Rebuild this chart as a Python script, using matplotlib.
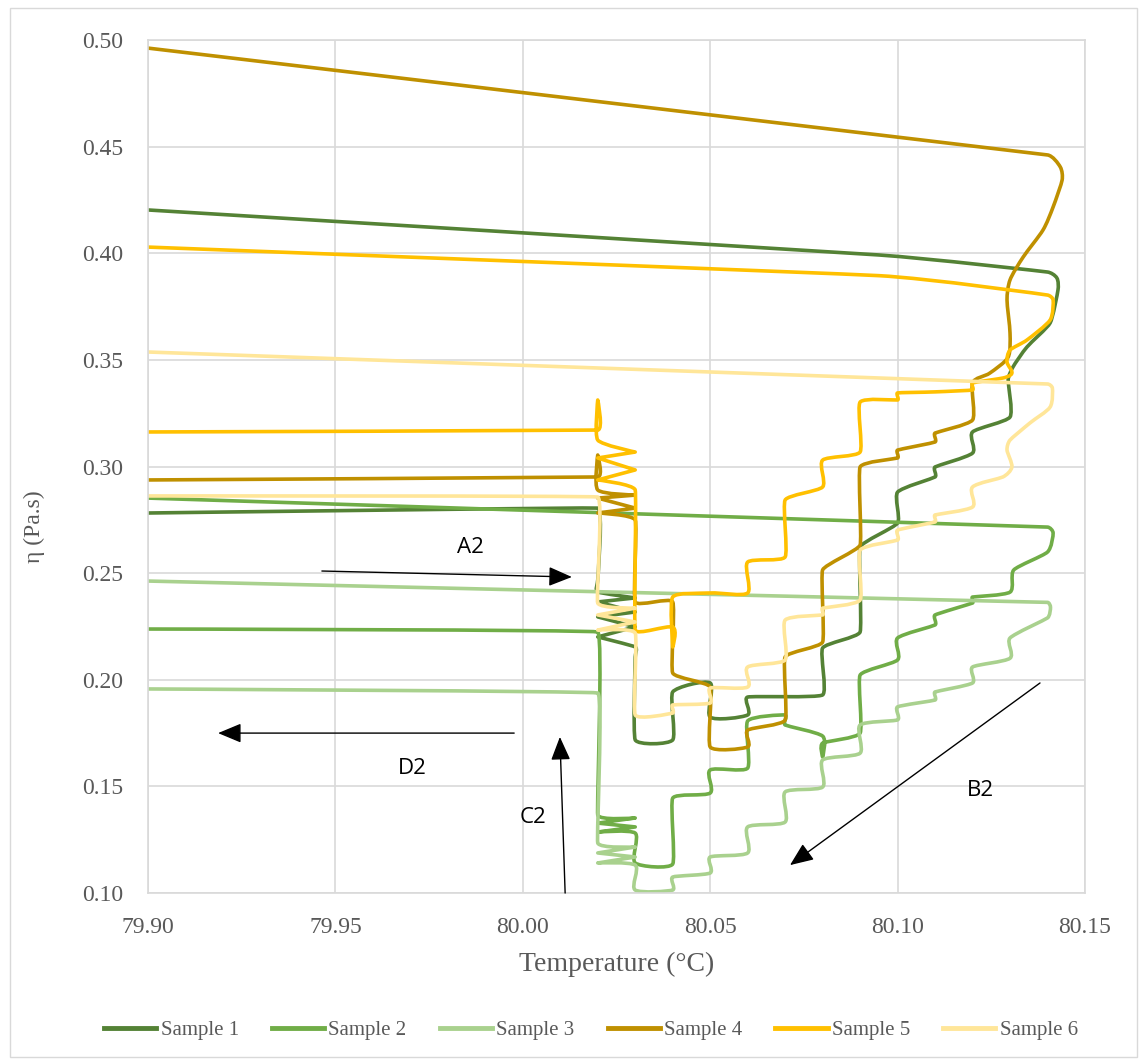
import numpy as np
import matplotlib
matplotlib.use("Agg")
import matplotlib.pyplot as plt
from matplotlib.path import Path
from matplotlib.patches import PathPatch, Rectangle
from matplotlib.lines import Line2D

plt.rcParams['font.family'] = ['Liberation Serif', 'DejaVu Serif']

# viscosity vs temperature for six samples (heat ramp, stepped cooling, recovery)
s1_temp = [79.90, 80.095, 80.140, 80.1425, 80.1428, 80.1407, 80.1345, 80.1308, 80.1295, 80.13,
           80.12, 80.12, 80.11, 80.11, 80.10, 80.10, 80.09, 80.09, 80.08, 80.08,
           80.06, 80.06, 80.05, 80.05, 80.04, 80.04, 80.03, 80.03, 80.03,
           80.02, 80.03, 80.02, 80.03, 80.02, 80.03, 80.02, 80.02, 80.02, 79.90]
s1_eta = [0.4203, 0.3992, 0.3912, 0.3884, 0.3828, 0.3673, 0.3560, 0.3467, 0.3406, 0.3232,
          0.3162, 0.3063, 0.2998, 0.2951, 0.2880, 0.2735, 0.2622, 0.2224, 0.2149, 0.1929,
          0.1919, 0.1835, 0.1825, 0.1985, 0.1943, 0.1718, 0.1718, 0.2107, 0.2154,
          0.2201, 0.2248, 0.2295, 0.2318, 0.2365, 0.2384, 0.2412, 0.2468, 0.2805, 0.2782]

s2_temp = [79.90, 80.14, 80.1415, 80.14, 80.131, 80.13, 80.12, 80.12, 80.11, 80.11,
           80.10, 80.10, 80.09, 80.09, 80.08, 80.08, 80.08, 80.07, 80.07, 80.06, 80.06,
           80.05, 80.05, 80.04, 80.04, 80.03, 80.03, 80.02, 80.03, 80.02, 80.03, 80.02,
           80.02, 79.90]
s2_eta = [0.2852, 0.2716, 0.2688, 0.2599, 0.2515, 0.2411, 0.2388, 0.2360, 0.2304, 0.2257,
          0.2196, 0.2093, 0.2022, 0.1750, 0.1703, 0.1638, 0.1736, 0.1788, 0.1835, 0.1807, 0.1586,
          0.1577, 0.1469, 0.1445, 0.1136, 0.1141, 0.1281, 0.1286, 0.1310, 0.1328, 0.1352, 0.1366,
          0.2224, 0.2238]

s3_temp = [79.90, 80.14, 80.1408, 80.14, 80.13, 80.13, 80.12, 80.12, 80.11, 80.11,
           80.10, 80.10, 80.09, 80.09, 80.08, 80.08, 80.07, 80.07, 80.06, 80.06,
           80.05, 80.05, 80.04, 80.04, 80.03, 80.03, 80.02, 80.03, 80.02, 80.03, 80.02,
           80.02, 79.90]
s3_eta = [0.2463, 0.2363, 0.2340, 0.2290, 0.2196, 0.2101, 0.2060, 0.1985, 0.1943, 0.1905,
          0.1873, 0.1812, 0.1788, 0.1656, 0.1624, 0.1497, 0.1474, 0.1333, 0.1310, 0.1188,
          0.1169, 0.1094, 0.1075, 0.1014, 0.1014, 0.1131, 0.1141, 0.1169, 0.1188, 0.1216, 0.1235,
          0.1938, 0.1957]

s4_temp = [79.90, 80.14, 80.1434, 80.1439, 80.1415, 80.1388, 80.1335, 80.1300, 80.1292,
           80.1300, 80.1295, 80.1246, 80.12, 80.12, 80.11, 80.11, 80.10, 80.10, 80.09, 80.09,
           80.08, 80.08, 80.07, 80.07, 80.06, 80.06, 80.05, 80.05, 80.04, 80.04, 80.03, 80.03,
           80.02, 80.03, 80.02, 80.03, 80.02, 80.02, 80.02, 79.90]
s4_eta = [0.4962, 0.4461, 0.4405, 0.4343, 0.4217, 0.4109, 0.3982, 0.3875, 0.3781,
          0.3626, 0.3513, 0.3438, 0.3392, 0.3218, 0.3157, 0.3115, 0.3077, 0.3040, 0.2998, 0.2632,
          0.2515, 0.2177, 0.2107, 0.1811, 0.1764, 0.1685, 0.1685, 0.1966, 0.2032, 0.2365, 0.2365, 0.2749,
          0.2782, 0.2805, 0.2852, 0.2866, 0.2890, 0.3054, 0.2951, 0.2937]

s5_temp = [79.90, 80.095, 80.14, 80.1415, 80.1407, 80.1345, 80.1300, 80.1292, 80.1305, 80.1281,
           80.12, 80.12, 80.11, 80.10, 80.10, 80.09, 80.09, 80.08, 80.08, 80.07, 80.07,
           80.06, 80.06, 80.05, 80.04, 80.04, 80.04, 80.03, 80.03, 80.02, 80.03, 80.02, 80.03,
           80.02, 80.02, 80.02, 79.90]
s5_eta = [0.4029, 0.3895, 0.3804, 0.3781, 0.3687, 0.3593, 0.3546, 0.3490, 0.3438, 0.3415,
          0.3392, 0.3359, 0.3350, 0.3345, 0.3312, 0.3302, 0.3068, 0.3030, 0.2904, 0.2843, 0.2576,
          0.2552, 0.2407, 0.2407, 0.2388, 0.2154, 0.2247, 0.2233, 0.2890, 0.2937, 0.2984, 0.3040, 0.3068,
          0.3124, 0.3312, 0.3171, 0.3162]

s6_temp = [79.90, 80.14, 80.1413, 80.1407, 80.1353, 80.13, 80.1292, 80.1305, 80.1281,
           80.12, 80.12, 80.11, 80.11, 80.10, 80.10, 80.09, 80.09, 80.08, 80.08, 80.07, 80.07,
           80.06, 80.06, 80.05, 80.05, 80.04, 80.04, 80.03, 80.03, 80.02, 80.03, 80.02, 80.03,
           80.02, 80.02, 79.90]
s6_eta = [0.3537, 0.3387, 0.3368, 0.3279, 0.3204, 0.3124, 0.3077, 0.2998, 0.2951,
          0.2904, 0.2810, 0.2773, 0.2740, 0.2702, 0.2655, 0.2608, 0.2374, 0.2336, 0.2304, 0.2280, 0.2093,
          0.2060, 0.1966, 0.1961, 0.1891, 0.1882, 0.1844, 0.1835, 0.2219, 0.2233, 0.2271, 0.2304, 0.2336,
          0.2360, 0.2857, 0.2862]

labels = ["Sample 1", "Sample 2", "Sample 3", "Sample 4", "Sample 5", "Sample 6"]
colors = ["#548235", "#70AD47", "#A9D18E", "#BF9000", "#FFC000", "#FFE699"]
series = [(s1_temp, s1_eta), (s2_temp, s2_eta), (s3_temp, s3_eta),
          (s4_temp, s4_eta), (s5_temp, s5_eta), (s6_temp, s6_eta)]

XMIN, XMAX = 79.90, 80.15
YMIN, YMAX = 0.10, 0.50
# rough pixel scale of the plot area, used so the smoothing works in screen-like units
SX = 937 / (XMAX - XMIN)
SY = 853 / (YMAX - YMIN)


def smooth_path(xs, ys, k=0.3, hmax=6.0):
    """Smoothed line (cubic Bezier) through the points, like a spreadsheet smooth line."""
    pts = np.column_stack([(np.asarray(xs) - XMIN) * SX, (np.asarray(ys) - YMIN) * SY])
    n = len(pts)
    seg = np.diff(pts, axis=0)
    seglen = np.hypot(seg[:, 0], seg[:, 1])
    tang = np.zeros_like(pts)
    gentle = np.zeros(n, dtype=bool)
    for i in range(n):
        a = pts[max(i - 1, 0)]
        b = pts[min(i + 1, n - 1)]
        d = b - a
        L = np.hypot(*d)
        if L > 0:
            tang[i] = d / L
        if 0 < i < n - 1:
            cos_turn = np.dot(seg[i - 1], seg[i]) / (seglen[i - 1] * seglen[i])
            if cos_turn < -0.8:
                tang[i] = 0          # spike: keep as a cusp
            gentle[i] = cos_turn > 0.94
    verts = [pts[0]]
    codes = [Path.MOVETO]
    for i in range(n - 1):
        left = seglen[i - 1] if i > 0 else seglen[i]
        right = seglen[i + 1] if i + 1 < n - 1 else seglen[i]
        h1 = k * min(seglen[i], left)
        h2 = k * min(seglen[i], right)
        if not gentle[i]:
            h1 = min(h1, hmax)
        if not gentle[i + 1]:
            h2 = min(h2, hmax)
        verts += [pts[i] + tang[i] * h1, pts[i + 1] - tang[i + 1] * h2, pts[i + 1]]
        codes += [Path.CURVE4] * 3
    v = np.array(verts)
    v[:, 0] = v[:, 0] / SX + XMIN
    v[:, 1] = v[:, 1] / SY + YMIN
    return Path(v, codes)


fig = plt.figure(figsize=(11.41, 10.61), dpi=100)
ax = fig.add_axes([0.1297, 0.1583, 0.8212, 0.804])

for (t, e), c in zip(series, colors):
    patch = PathPatch(smooth_path(t, e), facecolor="none", edgecolor=c, lw=2.6,
                      capstyle="round", joinstyle="round")
    ax.add_patch(patch)

ax.set_xlim(XMIN, XMAX)
ax.set_ylim(YMIN, YMAX)
ax.set_xticks(np.arange(79.90, 80.151, 0.05))
ax.set_yticks(np.arange(0.10, 0.501, 0.05))
ax.xaxis.set_major_formatter(matplotlib.ticker.FormatStrFormatter("%.2f"))
ax.yaxis.set_major_formatter(matplotlib.ticker.FormatStrFormatter("%.2f"))
ax.grid(True, color="#D9D9D9", lw=1.2)
ax.set_axisbelow(True)
for sp in ax.spines.values():
    sp.set_color("#D9D9D9")
    sp.set_linewidth(1.2)
ax.tick_params(length=0, labelsize=17, labelcolor="#595959")
ax.tick_params(axis="y", pad=18)
ax.tick_params(axis="x", pad=17)

ax.set_xlabel("Temperature (°C)", fontsize=20, color="#595959", labelpad=10)
ax.set_ylabel("η (Pa.s)", fontsize=17, color="#595959")
ax.yaxis.set_label_coords(-0.11, 0.43)

# annotations for the measurement stages
arrow = dict(arrowstyle="-|>,head_length=0.6,head_width=0.25", color="black",
             lw=1, mutation_scale=24, shrinkA=0, shrinkB=0)
ann_font = dict(fontsize=16, family=["Open Sans", "DejaVu Sans"], color="black",
                ha="center", va="center")
ax.annotate("", xy=(80.0131, 0.2482), xytext=(79.9464, 0.2510), arrowprops=arrow)
ax.text(79.986, 0.2618, "A2", **ann_font)
ax.annotate("", xy=(80.0713, 0.1131), xytext=(80.138, 0.1985), arrowprops=arrow)
ax.text(80.122, 0.1483, "B2", **ann_font)
ax.annotate("", xy=(80.0099, 0.1732), xytext=(80.0113, 0.1000), arrowprops=arrow)
ax.text(80.0027, 0.1352, "C2", **ann_font)
ax.annotate("", xy=(79.9187, 0.1750), xytext=(79.9977, 0.1750), arrowprops=arrow)
ax.text(79.9704, 0.1586, "D2", **ann_font)

handles = [Line2D([], [], color=c, lw=3.5) for c in colors]
fig.legend(handles, labels, loc="center", bbox_to_anchor=(0.518, 0.029), ncol=6,
           frameon=False, fontsize=15, labelcolor="#595959", handlelength=2.5,
           handletextpad=0.2, columnspacing=1.6)

fig.add_artist(Rectangle((0.0088, 0.004), 0.988, 0.988, transform=fig.transFigure,
                         fill=False, edgecolor="#D9D9D9", lw=1))

fig.savefig("out.png", dpi=100)
